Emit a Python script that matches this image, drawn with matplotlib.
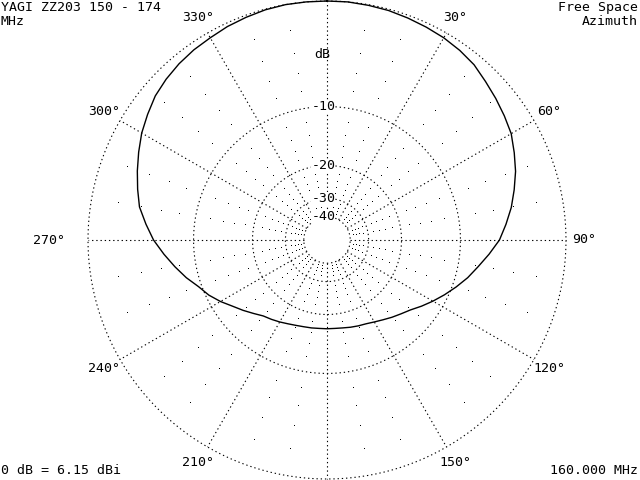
import numpy as np
import matplotlib.pyplot as plt

# azimuth pattern (deg, dB relative to max)
azimuth = np.arange(0, 360, 5)
gain_db = [0.0, 0.0, -0.05, -0.1, -0.2, -0.3, -0.4, -0.55, -0.75, -1.1,
           -1.4, -1.7, -2.0, -2.5, -3.0, -3.6, -4.2, -4.9, -5.6, -6.6,
           -7.6, -8.5, -9.5, -10.5, -11.5, -12.5, -13.5, -14.2, -14.8, -15.4,
           -15.9, -16.3, -16.5, -16.7, -16.9, -17.0, -17.0, -17.0, -16.9, -16.8,
           -16.6, -16.3, -15.9, -15.5, -15.1, -14.3, -13.4, -12.5, -11.4, -10.4,
           -9.6, -8.5, -7.5, -6.5, -5.5, -4.7, -3.9, -3.4, -2.9, -2.4,
           -1.9, -1.5, -1.1, -0.85, -0.65, -0.5, -0.4, -0.25, -0.15, -0.05,
           0.0, 0.0]

ring_db = [0, -10, -20, -30, -40]
ring_labels = ["-10", "-20", "-30", "-40"]
angle_labels = [30, 60, 90, 120, 150, 210, 240, 270, 300, 330]

title = "YAGI ZZ203 150 - 174\nMHz"
mode = "Free Space\nAzimuth"
ref_gain = "0 dB = 6.15 dBi"
freq = "160.000 MHz"


def arrl(db):
    # ARRL log scale: 0.89 per 2 dB
    return 0.89 ** (-np.asarray(db, dtype=float) / 2)


def xy(r, az):
    a = np.radians(az)
    return r * np.sin(a), r * np.cos(a)


fig = plt.figure(figsize=(6.4, 4.8), dpi=100)
ax = fig.add_axes([0, 0, 1, 1])
cx, cy, R = 327, 240, 239
ax.set_xlim(-cx / R, (640 - cx) / R)
ax.set_ylim(-cy / R, (480 - cy) / R)
ax.axis("off")

dots = (0, (1.2, 2.6))
grid_kw = dict(color="black", lw=0.8, ls=dots)

# rings
t = np.linspace(0, 360, 721)
for db in ring_db:
    x, y = xy(arrl(db), t)
    ax.plot(x, y, **grid_kw)

# 30 deg spokes
r_in = arrl(-40)
for a in range(0, 360, 30):
    x, y = xy(np.array([r_in, 1.0]), a)
    ax.plot(x, y, **grid_kw)

# dots on the 10 deg spokes every 2 dB
for a in range(0, 360, 10):
    if a % 30 == 0:
        continue
    steps = [d for d in range(-2, -40, -2) if d % 10 != 0]
    x, y = xy(arrl(steps), a)
    ax.plot(x, y, ",", color="black")

# pattern
r = arrl(gain_db + gain_db[:1])
az = np.append(azimuth, 360)
x, y = xy(r, az)
ax.plot(x, y, color="black", lw=1.0)

font = dict(family="DejaVu Sans Mono", size=9.5, color="black")

# angle labels
for a in angle_labels:
    off = 23 if a == 270 else 18
    lx, ly = xy(1 + off / R, a)
    ha = "right" if a == 270 else "center"
    ax.text(lx, ly, f"{a}\u00b0", ha=ha, va="center", **font)

# dB scale labels
ax.text(-0.02, 0.775, "dB", ha="center", va="center", **font)
for db, lab in zip(ring_db[1:], ring_labels):
    ax.text(-0.015, arrl(db), lab, ha="center", va="center",
            bbox=dict(fc="white", ec="none", pad=0), **font)

fig.text(0.001, 0.998, title, ha="left", va="top", linespacing=1.15, **font)
fig.text(0.997, 0.998, mode, ha="right", va="top", linespacing=1.15,
         multialignment="right", **font)
fig.text(0.001, 0.02, ref_gain, ha="left", va="center", **font)
fig.text(0.997, 0.02, freq, ha="right", va="center", **font)

fig.savefig("out.png", dpi=100, facecolor="white")
